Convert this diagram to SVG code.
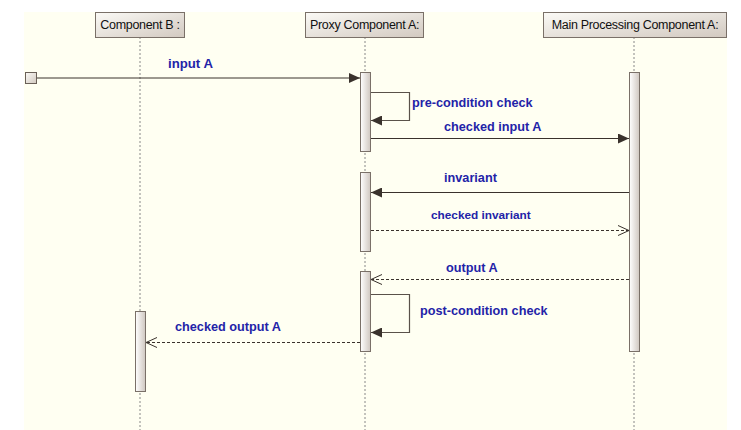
<svg xmlns="http://www.w3.org/2000/svg" width="741" height="430" viewBox="0 0 741 430">
<defs>
<linearGradient id="boxg" x1="0" y1="0" x2="1" y2="1">
<stop offset="0" stop-color="#fbfaf6"/>
<stop offset="1" stop-color="#d2c9c0"/>
</linearGradient>
<linearGradient id="actg" x1="0" y1="0" x2="1" y2="0">
<stop offset="0" stop-color="#ffffff"/>
<stop offset="1" stop-color="#cfc7c0"/>
</linearGradient>
<marker id="fill" markerWidth="12" markerHeight="10" refX="11" refY="5" orient="auto" markerUnits="userSpaceOnUse">
<path d="M0,0 L11,5 L0,10 Z" fill="#3a322c"/>
</marker>
<marker id="open" markerWidth="12" markerHeight="12" refX="11" refY="6" orient="auto" markerUnits="userSpaceOnUse">
<path d="M0,1 L11,6 L0,11" fill="none" stroke="#3a322c" stroke-width="1"/>
</marker>
</defs>
<style>
.box{fill:url(#boxg);stroke:#7a7068;stroke-width:1}
.act{fill:url(#actg);stroke:#7a7068;stroke-width:1}
.life{stroke:#888;stroke-width:1;stroke-dasharray:2,2;fill:none}
.msg{stroke:#3a322c;stroke-width:1;fill:none}
.dash{stroke:#3a322c;stroke-width:1;fill:none;stroke-dasharray:3,2}
.loop{stroke:#5a524a;stroke-width:1.2;fill:none}
.name{font-family:"Liberation Sans",Arial,sans-serif;font-size:12.5px;fill:#111;letter-spacing:-0.3px}
.lbl{font-family:"Liberation Sans",Arial,sans-serif;font-size:12.7px;font-weight:bold;fill:#2323a8}
</style>
<rect x="0" y="0" width="741" height="430" fill="#ffffff"/>
<rect x="24" y="12" width="703" height="418" fill="#fffff2"/>

<g id="lifelines">
<line class="life" x1="140" y1="37" x2="140" y2="430"/>
<line class="life" x1="365" y1="37" x2="365" y2="430"/>
<line class="life" x1="634" y1="37" x2="634" y2="430"/>
</g>

<g id="componentB">
<rect class="box" x="95.5" y="12.5" width="89" height="25"/>
<text class="name" x="140" y="29" text-anchor="middle">Component B :</text>
<rect class="act" x="135.5" y="311.5" width="10" height="80"/>
</g>

<g id="proxyA">
<rect class="box" x="305.5" y="12.5" width="118" height="25"/>
<text class="name" x="364.5" y="29" text-anchor="middle">Proxy Component A:</text>
<rect class="act" x="360.5" y="72.5" width="10" height="79"/>
<rect class="act" x="360.5" y="172.5" width="10" height="79"/>
<rect class="act" x="360.5" y="271.5" width="10" height="80"/>
</g>

<g id="mainA">
<rect class="box" x="543.5" y="12.5" width="183" height="25"/>
<text class="name" x="635" y="29" text-anchor="middle">Main Processing Component A:</text>
<rect class="act" x="629.5" y="72.5" width="10" height="279"/>
</g>

<g id="start">
<rect x="25.5" y="72.5" width="11" height="11" fill="url(#boxg)" stroke="#6a6058"/>
</g>

<g id="connectors">
<line class="msg" x1="37" y1="78" x2="360" y2="78" marker-end="url(#fill)"/>
<polyline class="loop" points="371,92.5 409.5,92.5 409.5,120.5 371,120.5" marker-end="url(#fill)"/>
<line class="msg" x1="371" y1="138.5" x2="629" y2="138.5" marker-end="url(#fill)"/>
<line class="msg" x1="629" y1="192.5" x2="371" y2="192.5" marker-end="url(#fill)"/>
<line class="dash" x1="371" y1="230.5" x2="629" y2="230.5" marker-end="url(#open)"/>
<line class="dash" x1="629" y1="279.5" x2="371" y2="279.5" marker-end="url(#open)"/>
<polyline class="loop" points="371,294.5 409.5,294.5 409.5,332.5 371,332.5" marker-end="url(#fill)"/>
<line class="dash" x1="360" y1="342.5" x2="146" y2="342.5" marker-end="url(#open)"/>
</g>

<g id="labels">
<text class="lbl" x="168" y="68" style="font-size:13.2px">input A</text>
<text class="lbl" x="412" y="107">pre-condition check</text>
<text class="lbl" x="444" y="130.5">checked input A</text>
<text class="lbl" x="444" y="182">invariant</text>
<text class="lbl" x="431" y="219" style="font-size:11.8px">checked invariant</text>
<text class="lbl" x="446" y="272">output A</text>
<text class="lbl" x="420" y="314.5">post-condition check</text>
<text class="lbl" x="175" y="331">checked output A</text>
</g>
</svg>
